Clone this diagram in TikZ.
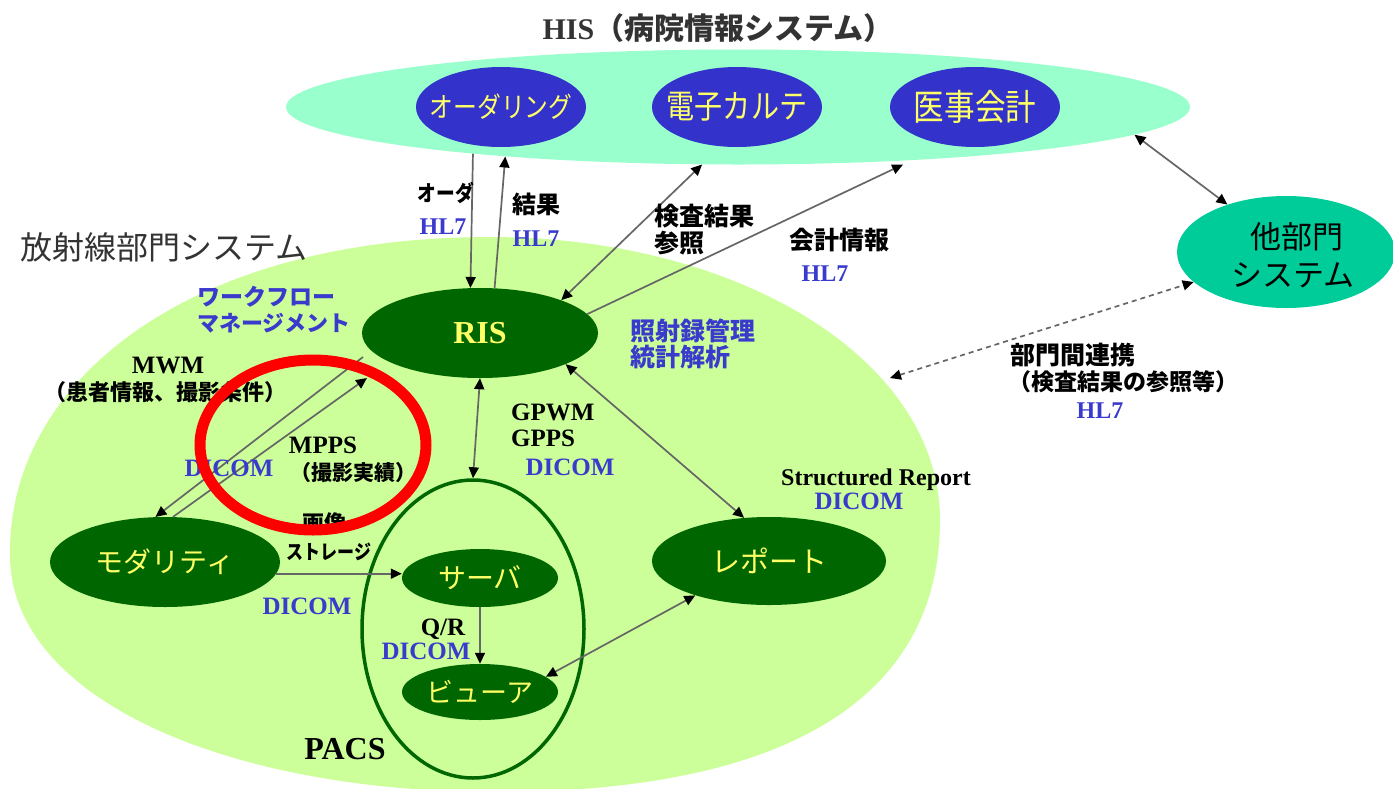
\documentclass[tikz,border=0pt]{standalone}
\usepackage{fontspec}
\setmainfont{Liberation Serif}
\newfontfamily\jp{Noto Sans CJK JP}
\newfontfamily\jpc{Noto Sans CJK JP}[FakeStretch=0.85]
\usetikzlibrary{shapes.geometric,arrows.meta}
\definecolor{mint}{HTML}{99FFCC}
\definecolor{hisblue}{HTML}{3333CC}
\definecolor{ytext}{HTML}{FFFF66}
\definecolor{dgreen}{HTML}{006600}
\definecolor{lgreen}{HTML}{CCFF99}
\definecolor{tealc}{HTML}{00CC99}
\definecolor{lblue}{HTML}{3A3ACC}
\definecolor{lineg}{HTML}{666666}
\definecolor{titleg}{HTML}{333333}
\newcommand{\fsz}[1]{\fontsize{#1}{#1}\selectfont}
\tikzset{
  ell/.style={ellipse, inner sep=0pt},
  blueell/.style={ell, fill=hisblue, minimum width=170pt, minimum height=80pt, inner xsep=-22pt, text=ytext},
  dgell/.style={ell, fill=dgreen, text=ytext},
  conn/.style={draw=lineg, line width=1.7pt},
  dconn/.style={conn, dash pattern=on 5pt off 4pt},
  lab/.style={inner sep=0pt},
  jb/.style={lab, font=\jp\bfseries\fsz{#1}},
  jcb/.style={lab, font=\jpc\bfseries\fsz{#1}},
  jbl/.style={lab, font=\jp\bfseries\fsz{#1}, text=lblue},
  lb/.style={lab, font=\bfseries\fsz{#1}},
  lbb/.style={lab, font=\bfseries\fsz{#1}, text=lblue},
}
\begin{document}
\begin{tikzpicture}[x=1pt,y=-1pt, >={Triangle[length=11pt,width=10pt,color=black]}]
\useasboundingbox (0,0) rectangle (1393,788);
% radiology department area
\fill[lgreen] (10,555) .. controls (8,380) and (190,237) .. (490,237)
  .. controls (740,237) and (940,360) .. (940,520)
  .. controls (940,690) and (800,792) .. (495,792)
  .. controls (230,792) and (10,700) .. (10,555) -- cycle;
% HIS
\node[ell, fill=mint, minimum width=904pt, minimum height=115pt] (his) at (738,107) {};
\node[lab, font=\fsz{30}, text=titleg] (histitle) at (718,28) {\textbf{HIS}{\jp\bfseries （病院情報システム）}};
\node[blueell, font=\jpc\fsz{28}] (ord) at (501,107) {オーダリング};
\node[blueell, font=\jpc\fsz{33}] (emr) at (737,107) {電子カルテ};
\node[blueell, font=\jpc\fsz{36}] (acc) at (975,107) {医事会計};
% other departments
\node[ell, fill=tealc, minimum width=218pt, minimum height=112pt] (oth) at (1286,252) {};
\node[lab, font=\jp\fsz{31}] (othA) at (1297,237) {他部門};
\node[lab, font=\jp\fsz{31}] (othB) at (1293,275) {システム};
% radiology nodes
\node[lab, font=\jp\fsz{32}, text=titleg] (radsys) at (164,247) {放射線部門システム};
\node[dgell, minimum width=236pt, minimum height=90pt, font=\bfseries\fsz{32}] (ris) at (480,333) {RIS};
\node[dgell, minimum width=230pt, minimum height=90pt, font=\jp\fsz{28}] (mod) at (165,562) {モダリティ};
\node[dgell, minimum width=234pt, minimum height=88pt, font=\jp\fsz{29}] (rep) at (769,561) {レポート};
\node[draw=dgreen, line width=3.5pt, ell, minimum width=222pt, minimum height=298pt] (pacs) at (473,629) {};
\node[dgell, minimum width=156pt, minimum height=58pt, font=\jp\fsz{28}] (serv) at (480,578) {サーバ};
\node[dgell, minimum width=156pt, minimum height=56pt, font=\jp\fsz{27}] (view) at (480,692) {ビューア};
\node[lb=32] (pacsl) at (345,749) {PACS};
% free ends
\coordinate (mwmR) at (363,357);
\coordinate (mppsR) at (367,378);
\coordinate (deptL) at (890,378);
% connectors
\draw[conn,->] (his.190.5) -- (ris.102);
\draw[conn,->] (ris.72) -- (his.192);
\draw[conn,<->] (ris.22) -- (his.238);
\draw[conn,->,shorten >=10pt] (ris.10) -- (his.-17);
\draw[conn,<->] (his.-4) -- (oth.141);
\draw[dconn,<->] (deptL) -- (oth.198);
\draw[conn,->] (mwmR) -- (mod.102);
\draw[conn,->] (mod.80) -- (mppsR);
\draw[conn,<->] (ris.south) -- (pacs.north);
\draw[conn,<->] (ris.-20) -- (rep.120);
\draw[conn,<->] (view.13) -- (rep.205);
\draw[conn,->] (mod.-6) -- (mod.-6 -| serv.west);
\draw[conn,->] (serv.south) -- (view.north);
% labels
\node[jcb=22] (l1) at (446,193) {オーダ};
\node[lbb=24] (l2) at (443,227) {HL7};
\node[jb=24] (l3) at (536,204) {結果};
\node[lbb=24] (l4) at (536,239) {HL7};
\node[jb=25, anchor=west] (l5) at (654,216) {検査結果};
\node[jb=25, anchor=west] (l6) at (654,243) {参照};
\node[jb=25] (l7) at (839,240) {会計情報};
\node[lbb=24] (l8) at (825,274) {HL7};
\node[jbl=25, anchor=west] (l9) at (630,331) {照射録管理};
\node[jbl=25, anchor=west] (l10) at (630,357) {統計解析};
\node[jb=25, anchor=west] (l11) at (1010,355) {部門間連携};
\node[jb=23, anchor=west] (l12) at (1008,382) {（検査結果の参照等）};
\node[lbb=24] (l13) at (1100,411) {HL7};
\node[jbl=23, anchor=west] (l14) at (197,297) {ワークフロー};
\node[jbl=22, anchor=west] (l15) at (197,323) {マネージメント};
\node[lb=25] (l16) at (168,365) {MWM};
\node[jb=22] (l17) at (166,392) {（患者情報、撮影条件）};
\node[lb=25] (l18) at (323,445) {MPPS};
\node[jb=21] (l19) at (353,473) {（撮影実績）};
\node[lbb=25] (l20) at (229,468) {DICOM};
\node[lb=25, anchor=west] (l21) at (511,412) {GPWM};
\node[lb=25, anchor=west] (l22) at (511,438) {GPPS};
\node[lbb=25] (l23) at (570,467) {DICOM};
\node[lb=24] (l24) at (876,480) {Structured Report};
\node[lbb=25] (l25) at (859,501) {DICOM};
\node[jb=22] (l26) at (324,523) {画像};
\node[jcb=20] (l27) at (329,552) {ストレージ};
\node[lbb=25] (l28) at (307,606) {DICOM};
\node[lb=25] (l29) at (443,629) {Q/R};
\node[lbb=25] (l30) at (426,651) {DICOM};
% highlight
\node[draw=red, line width=11pt, ell, minimum width=226pt, minimum height=170pt] (hl) at (313,445) {};
\end{tikzpicture}
\end{document}
